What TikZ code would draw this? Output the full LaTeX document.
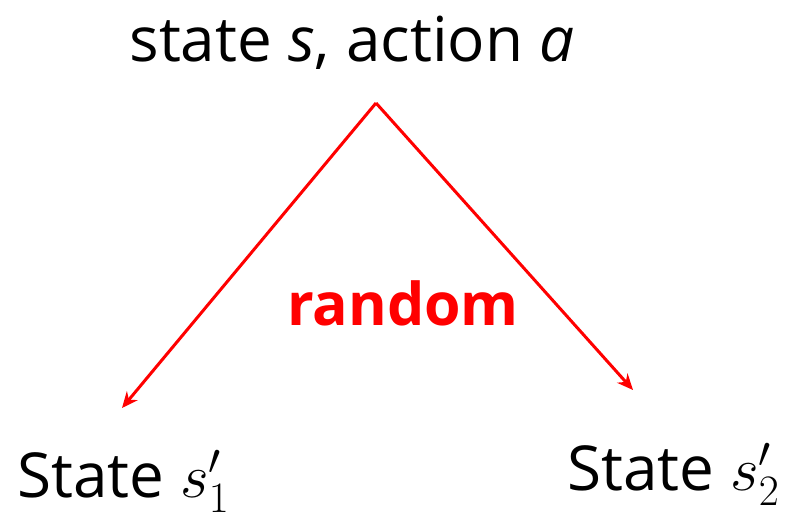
\RequirePackage{fix-cm}
\documentclass[tikz,border=0pt]{standalone}
\usepackage{fontspec}
\setmainfont{Open Sans}
\usepackage{tikz}
\usetikzlibrary{arrows.meta,positioning}

\begin{document}
\begin{tikzpicture}[x=1pt,y=-1pt]
\tikzstyle{lbl}=[inner sep=0pt, font=\fontsize{62}{66}\selectfont]
\tikzstyle{rnd}=[inner sep=0pt, text=red, font=\fontsize{59}{62}\selectfont\bfseries]
\useasboundingbox (0,0) rectangle (802,519);
\node[lbl, anchor=base] (sa) at (352,62) {state \textit{s}, action \textit{a}};
\coordinate (top) at (376,103);
\node[lbl, anchor=base west] (s1) at (17,497) {State $s'_1$};
\node[lbl, anchor=base west] (s2) at (567,490) {State $s'_2$};
\node[rnd, anchor=base] (rn) at (403,325) {random};
\coordinate (e1) at (122,408);
\coordinate (e2) at (633,390);
\tikzstyle{farrow}=[-{Stealth[length=16pt,width=14pt]}, line width=3pt, red]
\draw[farrow] (top) -- (e1);
\draw[farrow] (top) -- (e2);
\end{tikzpicture}
\end{document}
